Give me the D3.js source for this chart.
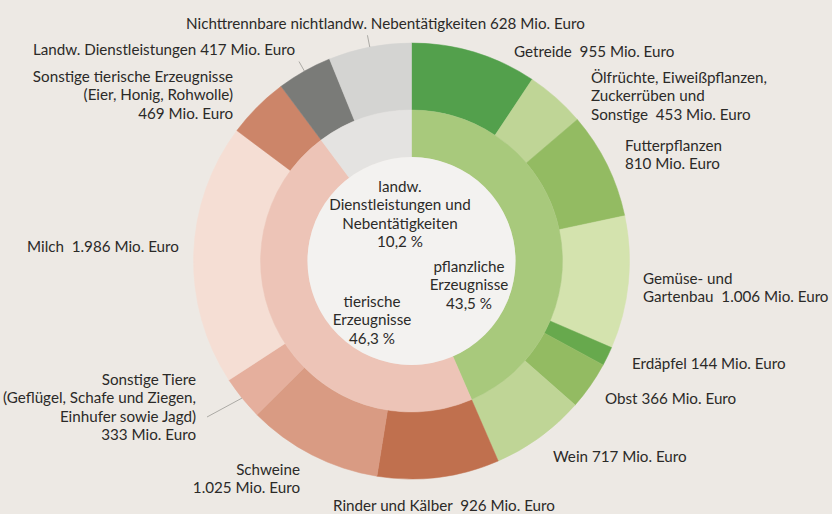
<!DOCTYPE html>
<html>
<head>
<meta charset="utf-8">
<script src="https://cdn.jsdelivr.net/npm/d3@7"></script>
<style>
  body { margin: 0; background: #ede9e4; }
  svg { display: block; font-family: Lato, "Open Sans", sans-serif; }
  text { fill: #2b2a28; font-size: 15.2px; white-space: pre; }
</style>
</head>
<body>
<svg id="chart" width="832" height="514"></svg>
<script>
// Produktionswert der Landwirtschaft, Mio. Euro
let groupNames = ["pflanzliche Erzeugnisse", "tierische Erzeugnisse", "landw. Dienstleistungen und Nebentätigkeiten"];
let groupShares = ["43,5 %", "46,3 %", "10,2 %"];

let items = [
  "Getreide", "Ölfrüchte", "Futterpflanzen", "Gemüse", "Erdäpfel", "Obst", "Wein",
  "Rinder", "Schweine", "Sonstige Tiere", "Milch", "Sonstige tierische",
  "Landw. Dienstleistungen", "Nichttrennbare"
];
let itemValues = [955, 453, 810, 1006, 144, 366, 717, 926, 1025, 333, 1986, 469, 417, 628];
let itemGroup = [0, 0, 0, 0, 0, 0, 0, 1, 1, 1, 1, 1, 2, 2];

let itemLabels = [
  ["Getreide  955 Mio. Euro"],
  ["Ölfrüchte, Eiweißpflanzen,", "Zuckerrüben und", "Sonstige  453 Mio. Euro"],
  ["Futterpflanzen", "810 Mio. Euro"],
  ["Gemüse- und", "Gartenbau  1.006 Mio. Euro"],
  ["Erdäpfel 144 Mio. Euro"],
  ["Obst 366 Mio. Euro"],
  ["Wein 717 Mio. Euro"],
  ["Rinder und Kälber  926 Mio. Euro"],
  ["Schweine", "1.025 Mio. Euro"],
  ["Sonstige Tiere", "(Geflügel, Schafe und Ziegen,", "Einhufer sowie Jagd)", "333 Mio. Euro"],
  ["Milch  1.986 Mio. Euro"],
  ["Sonstige tierische Erzeugnisse", "(Eier, Honig, Rohwolle)", "469 Mio. Euro"],
  ["Landw. Dienstleistungen 417 Mio. Euro"],
  ["Nichttrennbare nichtlandw. Nebentätigkeiten 628 Mio. Euro"]
];

let groupLabels = [
  ["pflanzliche", "Erzeugnisse", groupShares[0]],
  ["tierische", "Erzeugnisse", groupShares[1]],
  ["landw.", "Dienstleistungen und", "Nebentätigkeiten", groupShares[2]]
];

// colours
let itemColors = [
  "#53a04c", "#bfd596", "#93bb62", "#d4e3ae", "#67a94d", "#93bb62", "#bfd596",
  "#c0704e", "#d99b83", "#e5af9d", "#f5ded4", "#cc8569",
  "#7a7b78", "#d4d4d2"
];
let groupColors = ["#a8c97c", "#edc4b7", "#e4e3e1"];

// label layout: x, y of first line (middle), anchor
let labelPos = [
  [514, 51, "start"],
  [591, 77, "start"],
  [625, 145, "start"],
  [643, 278, "start"],
  [632, 363, "start"],
  [605, 398, "start"],
  [553, 456, "start"],
  [333, 505, "start"],
  [300, 469, "end"],
  [196, 379, "end"],
  [27, 246, "start"],
  [233, 76, "end"],
  [295, 49, "end"],
  [186, 23, "start"]
];
let groupLabelPos = [[469, 266], [372, 301], [400, 186]];
let lineHeight = 18.3;

let cx = 411.5, cy = 261;
let rCenter = 104, rInner = 151, rOuter = 218;

let svg = d3.select("#chart");
let g = svg.append("g").attr("transform", "translate(" + cx + "," + cy + ")");

let pie = d3.pie().sort(null).value((d) => d.value);

let itemData = items.map((name, i) => {
  return { name: name, value: itemValues[i], i: i };
});
let groupData = groupNames.map((name, gi) => {
  return { name: name, value: d3.sum(itemValues.filter((v, i) => itemGroup[i] === gi)), i: gi };
});

let outerArcs = pie(itemData);
let innerArcs = pie(groupData);

let outerArc = d3.arc().innerRadius(rInner).outerRadius(rOuter);
let innerArc = d3.arc().innerRadius(rCenter).outerRadius(rInner);

g.selectAll("path.outer")
  .data(outerArcs)
  .enter()
  .append("path")
  .attr("class", "outer")
  .attr("d", outerArc)
  .attr("fill", (d) => itemColors[d.data.i])
  .attr("stroke", (d) => itemColors[d.data.i])
  .attr("stroke-width", 0.5);

g.selectAll("path.inner")
  .data(innerArcs)
  .enter()
  .append("path")
  .attr("class", "inner")
  .attr("d", innerArc)
  .attr("fill", (d) => groupColors[d.data.i])
  .attr("stroke", (d) => groupColors[d.data.i])
  .attr("stroke-width", 0.5);

g.append("circle").attr("r", rCenter).attr("fill", "#f3f2f0");

// leader lines for the narrow grey / tiere slices
let leaders = { 12: 229, 13: 230 };
outerArcs.forEach((d) => {
  let mid = (d.startAngle + d.endAngle) / 2;
  let x0 = rOuter * Math.sin(mid), y0 = -rOuter * Math.cos(mid);
  let x1, y1;
  if (leaders[d.data.i]) {
    let r = leaders[d.data.i];
    x1 = r * Math.sin(mid);
    y1 = -r * Math.cos(mid);
  } else if (d.data.name === "Sonstige Tiere") {
    x1 = 207 - cx;
    y1 = 417 - cy;
  } else {
    return;
  }
  g.append("line")
    .attr("x1", x0).attr("y1", y0)
    .attr("x2", x1).attr("y2", y1)
    .attr("stroke", "#9a9994")
    .attr("stroke-width", 0.8);
});

// outer labels
itemLabels.forEach((lines, i) => {
  let p = labelPos[i];
  let t = svg.append("text")
    .attr("text-anchor", p[2])
    .attr("dominant-baseline", "central");
  lines.forEach((line, k) => {
    t.append("tspan").attr("x", p[0]).attr("y", p[1] + k * lineHeight).text(line);
  });
});

// group labels in the middle
groupLabels.forEach((lines, i) => {
  let p = groupLabelPos[i];
  let t = svg.append("text")
    .attr("text-anchor", "middle")
    .attr("dominant-baseline", "central");
  lines.forEach((line, k) => {
    t.append("tspan").attr("x", p[0]).attr("y", p[1] + k * lineHeight).text(line);
  });
});
</script>
</body>
</html>
